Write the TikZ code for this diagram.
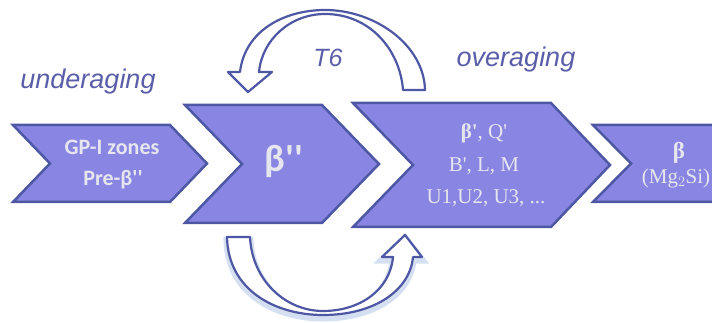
\documentclass[tikz,border=0pt]{standalone}
\usepackage{fontspec}
\setmainfont{Carlito}[Ligatures=TeXOff]
\newfontfamily\labelfont{Liberation Sans}
\newfontfamily\serfont{Liberation Serif}[Ligatures=TeXOff]
\definecolor{chevfill}{HTML}{8886E2}
\definecolor{chevline}{HTML}{4E57A4}
\definecolor{chevtext}{HTML}{E6E6EE}
\definecolor{labelcol}{HTML}{5A5EA8}
\definecolor{glowcol}{HTML}{B8CBEA}
\begin{document}
\begin{tikzpicture}[x=1pt,y=-1pt,
  chev/.style={fill=chevfill,draw=chevline,line width=2.5pt,line join=miter},
  bendarrow/.style={fill=white,draw=chevline,line width=2.2pt,line join=round},
  phase/.style={text=labelcol,font=\labelfont\itshape\fontsize{27}{32}\selectfont},
  inside/.style={text=chevtext,align=center,inner sep=0pt}]

\useasboundingbox (0,0) rectangle (712,323);
\clip (0,0) rectangle (712,323);

\draw[chev] (13,125) -- (170,125) -- (207,163.5) -- (170,202) -- (13,202) -- (50,163.5) -- cycle;
\draw[chev] (185,105) -- (322,105) -- (379,164) -- (322,223) -- (185,223) -- (242,164) -- cycle;
\draw[chev] (353,103) -- (551,103) -- (610,165) -- (551,227) -- (353,227) -- (413,165) -- cycle;
\draw[chev] (593,125) -- (740,125) -- (740,202) -- (593,202) -- (631,163.5) -- cycle;

\node[inside,font=\bfseries\fontsize{22}{26}\selectfont] (gpzones) at (112,147) {GP-I zones};
\node[inside,font=\bfseries\fontsize{22}{26}\selectfont] (prebeta) at (113,180) {Pre-β''};
\node[inside,font=\bfseries\fontsize{38}{42}\selectfont] (betadd) at (284,161) {β''};
\node[inside,font=\serfont\fontsize{21}{24}\selectfont] (betad) at (484,133) {\textbf{β'}, Q'};
\node[inside,font=\serfont\fontsize{21}{24}\selectfont] (bdlm) at (484,166) {B', L, M};
\node[inside,font=\serfont\fontsize{21}{24}\selectfont] (uphases) at (486,198) {U1,U2, U3, ...};
\node[inside,font=\serfont\bfseries\fontsize{23}{26}\selectfont] (beta) at (679,153) {β};
\node[inside,font=\serfont\fontsize{21}{24}\selectfont] (mgsi) at (676,178) {(Mg$_2$Si)};

\node[phase] (under) at (88,82) {underaging};
\node[phase] (over) at (516,60) {overaging};
\node[phase,font=\labelfont\itshape\fontsize{25}{30}\selectfont] (tsix) at (328,58) {T6};

\draw[bendarrow] (403,90) .. controls (400,50) and (370,14) .. (325,14)
  .. controls (290,14) and (262,40) .. (259,72) -- (272,72) -- (248,92) -- (228,72) -- (240,72)
  .. controls (245,30) and (285,10) .. (325,10)
  .. controls (375,10) and (424,45) .. (425,90) -- cycle;

\draw[glowcol,line width=7pt,opacity=0.6,shift={(0,3)}] (227,237) .. controls (228,290) and (275,315) .. (323,315)
  .. controls (375,315) and (410,290) .. (413,257) -- (422,257) -- (405,235) -- (382,257) -- (393,257)
  .. controls (390,290) and (360,311) .. (323,311)
  .. controls (285,311) and (252,280) .. (250,237) -- cycle;
\draw[bendarrow] (227,237) .. controls (228,290) and (275,315) .. (323,315)
  .. controls (375,315) and (410,290) .. (413,257) -- (422,257) -- (405,235) -- (382,257) -- (393,257)
  .. controls (390,290) and (360,311) .. (323,311)
  .. controls (285,311) and (252,280) .. (250,237) -- cycle;
\end{tikzpicture}
\end{document}
